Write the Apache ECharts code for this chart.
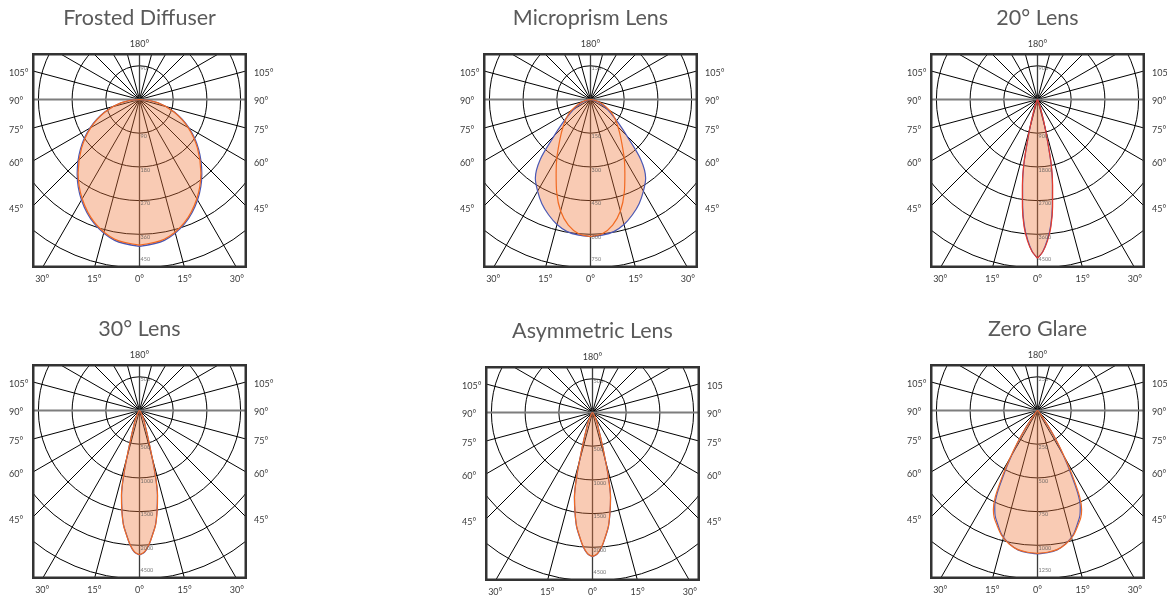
<!DOCTYPE html>
<html>
<head>
<meta charset="utf-8">
<script src="https://cdn.jsdelivr.net/npm/echarts@6/dist/echarts.min.js"></script>
<style>
html,body{margin:0;padding:0;background:#fff;overflow:hidden;}
#bg{position:absolute;left:0;top:0;width:1167px;height:595px;}
.box{position:absolute;width:215px;height:215px;}
</style>
</head>
<body>
<div id="bg"></div>
<script>
// ---------------- data ----------------
// Intensity (cd) per gamma angle, C0-C180 plane (blue) and C90-C270 plane (orange)
const frostedAngles = [0, 10, 20, 30, 40, 50, 60, 70, 80, 90];
const frostedC0     = [392, 382, 353, 310, 259, 206, 153, 100, 50, 0];
const frostedC90    = [389, 379, 350, 306, 255, 202, 150, 98, 49, 0];
const frostedRings  = ['90', '180', '270', '360', '450'];

const microAngles = [0, 5, 10, 15, 20, 25, 30, 35, 40, 45, 50, 55, 60, 70, 80, 90];
const microC0     = [610, 606, 597, 576, 546, 512, 471, 428, 348, 229, 162, 115, 85, 40, 15, 0];
const microC90    = [610, 600, 568, 514, 440, 362, 300, 245, 205, 173, 148, 124, 100, 55, 20, 0];
const microRings  = ['150', '300', '450', '600', '750'];

const lens20Angles = [0, 2, 4, 6, 8, 10, 12, 14, 16, 18, 20, 25, 30];
const lens20C0     = [4235, 4060, 3760, 3380, 2852, 2290, 1720, 1000, 560, 300, 160, 40, 0];
const lens20C90    = [4240, 4070, 3790, 3420, 2900, 2330, 1760, 1040, 590, 320, 170, 45, 0];
const lens20Rings  = ['900', '1800', '2700', '3600', '4500'];

const lens30Angles = [0, 2, 4, 6, 8, 10, 12, 14, 16, 18, 20, 24, 28, 34, 40];
const lens30C0     = [2142, 2105, 2000, 1850, 1710, 1500, 1280, 930, 560, 370, 260, 165, 100, 40, 0];
const lens30C90    = [2140, 2100, 1995, 1855, 1715, 1510, 1290, 945, 570, 375, 262, 165, 100, 40, 0];
const lens30Rings  = ['500', '1000', '1500', '2000', '4500'];

const asymAngles = [0, 2, 4, 6, 8, 10, 12, 14, 16, 18, 20, 24, 28, 34, 40];
const asymC0     = [2140, 2100, 1995, 1850, 1705, 1500, 1290, 950, 590, 390, 270, 170, 100, 40, 0];
const asymC90    = [2135, 2095, 1990, 1845, 1700, 1495, 1285, 960, 600, 395, 275, 170, 100, 40, 0];
const asymRings  = ['500', '1000', '1500', '2000', '4500'];

const zeroAngles = [0, 4, 8, 12, 16, 20, 22, 24, 26, 28, 30, 32, 34, 36, 40, 50];
const zeroC0     = [1064, 1058, 1044, 1010, 960, 880, 840, 780, 680, 520, 380, 260, 160, 80, 30, 0];
const zeroC90    = [1060, 1054, 1042, 1012, 965, 893, 857, 805, 715, 560, 405, 280, 170, 85, 30, 0];
const zeroRings  = ['250', '500', '750', '1000', '1250'];

// tick labels
const sideAngles    = [105, 90, 75, 60, 45];
const sideLabels    = ['105°', '90°', '75°', '60°', '45°'];
const asymRightSide = ['105', '90°', '75°', '60°', '45°'];
const bottomAngles  = [-30, -15, 0, 15, 30];
const bottomLabels  = ['30°', '15°', '0°', '15°', '30°'];
const topLabel      = '180°';

// ---------------- layout ----------------
const BOX = 215, CXR = 107.5, CYR = 46.5, R5 = 168.5, REXT = 205;
const BLUE = '#4a58b4', ORANGE = '#f26a22', RED = '#e63b2c';
const FILL = 'rgba(240,118,58,0.38)';
const FONT = 'Lato, "Open Sans", sans-serif';

const panels = [
  {title: 'Frosted Diffuser', left: 32,  top: 53,  angles: frostedAngles, c0: frostedC0, c90: frostedC90, rings: frostedRings, c90Color: ORANGE, right: sideLabels},
  {title: 'Microprism Lens',  left: 483, top: 53,  angles: microAngles,   c0: microC0,   c90: microC90,   rings: microRings,   c90Color: ORANGE, right: sideLabels},
  {title: '20° Lens',         left: 930, top: 53,  angles: lens20Angles,  c0: lens20C0,  c90: lens20C90,  rings: lens20Rings,  c90Color: RED,    right: sideLabels},
  {title: '30° Lens',         left: 32,  top: 364, angles: lens30Angles,  c0: lens30C0,  c90: lens30C90,  rings: lens30Rings,  c90Color: ORANGE, right: sideLabels},
  {title: 'Asymmetric Lens',  left: 485, top: 366, angles: asymAngles,    c0: asymC0,    c90: asymC90,    rings: asymRings,    c90Color: ORANGE, right: asymRightSide},
  {title: 'Zero Glare',       left: 930, top: 364, angles: zeroAngles,    c0: zeroC0,    c90: zeroC90,    rings: zeroRings,    c90Color: ORANGE, right: sideLabels}
];

// closed curve: right half (gamma) then left half (360 - gamma)
function buildCurve(angles, vals) {
  const pts = [];
  for (let i = 0; i < angles.length; i++) pts.push([vals[i], angles[i]]);
  for (let i = angles.length - 1; i >= 0; i--) pts.push([vals[i], 360 - angles[i]]);
  return pts;
}

// ---------------- label layer ----------------
const bg = echarts.init(document.getElementById('bg'), null, {renderer: 'canvas'});
const texts = [];
function txt(s, x, y, size, color, align) {
  texts.push({type: 'text', x: x, y: y, silent: true,
    style: {text: s, fill: color, fontSize: size, fontFamily: FONT, align: align, verticalAlign: 'middle'}});
}
panels.forEach(p => {
  const cx = p.left + CXR, cy = p.top + CYR, right = p.left + BOX, bottom = p.top + BOX;
  txt(p.title, cx, p.top - 35, 21.5, '#5a5a5a', 'center');
  txt(topLabel, cx, p.top - 9, 9, '#3a3a3a', 'center');
  sideAngles.forEach((a, i) => {
    const y = cy + CXR / Math.tan(a * Math.PI / 180) + 2;
    txt(sideLabels[i], p.left - 23, y, 9, '#3a3a3a', 'left');
    txt(p.right[i], right + 7, y, 9, '#3a3a3a', 'left');
  });
  bottomAngles.forEach((a, i) => {
    txt(bottomLabels[i], cx + R5 * Math.tan(a * Math.PI / 180), bottom + 11, 9, '#3a3a3a', 'center');
  });
});
bg.setOption({backgroundColor: '#fff', animation: false, graphic: {elements: texts}});

// ---------------- polar boxes ----------------
panels.forEach(p => {
  const div = document.createElement('div');
  div.className = 'box';
  div.style.left = p.left + 'px';
  div.style.top = p.top + 'px';
  document.body.appendChild(div);
  const chart = echarts.init(div, null, {renderer: 'canvas'});
  const step = Number(p.rings[0]);
  const rmax = step * 5 * REXT / R5;
  const ringData = p.rings.map((lab, k) => ({
    value: [step * (k + 1), 0],
    label: {formatter: lab, offset: k === 4 ? [0, -9] : [0, 3]}
  }));
  ringData.push({value: [step, 180], label: {formatter: p.rings[0], offset: [0, 2]}});
  chart.setOption({
    animation: false,
    polar: {center: [CXR, CYR], radius: REXT},
    angleAxis: {
      type: 'value', min: 0, max: 360, interval: 15, startAngle: 270, clockwise: false,
      axisLine: {show: false}, axisTick: {show: false}, axisLabel: {show: false},
      splitLine: {show: true, lineStyle: {color: '#000', width: 1}}
    },
    radiusAxis: {
      type: 'value', min: 0, max: rmax, interval: step,
      axisLine: {show: false}, axisTick: {show: false}, axisLabel: {show: false},
      splitLine: {show: true, lineStyle: {color: '#000', width: 1}}
    },
    series: [
      {type: 'line', coordinateSystem: 'polar', data: [[rmax, 90], [rmax, 270]], symbol: 'none', silent: true,
       lineStyle: {color: '#7d7d7d', width: 2}, z: 1},
      {type: 'line', coordinateSystem: 'polar', data: [[rmax, 0], [rmax, 180]], symbol: 'none', silent: true,
       lineStyle: {color: '#3c3c3c', width: 1.3}, z: 1},
      {type: 'line', name: 'C0-C180', coordinateSystem: 'polar', data: buildCurve(p.angles, p.c0),
       smooth: 0.3, symbol: 'none', silent: true,
       lineStyle: {color: BLUE, width: 1.2}, areaStyle: {color: FILL, opacity: 1}, z: 3},
      {type: 'line', name: 'C90-C270', coordinateSystem: 'polar', data: buildCurve(p.angles, p.c90),
       smooth: 0.3, symbol: 'none', silent: true,
       lineStyle: {color: p.c90Color, width: 1.2}, z: 4},
      {type: 'scatter', coordinateSystem: 'polar', data: ringData, symbolSize: 0, silent: true,
       itemStyle: {color: 'rgba(0,0,0,0)'},
       label: {show: true, position: 'right', distance: 1, color: '#555', fontSize: 5.5, fontFamily: FONT}, z: 6}
    ],
    graphic: {elements: [{type: 'rect', silent: true, z: 100,
      shape: {x: 1.25, y: 1.25, width: BOX - 2.5, height: BOX - 2.5},
      style: {fill: null, stroke: '#333', lineWidth: 2.5}}]}
  });
});
</script>
</body>
</html>
